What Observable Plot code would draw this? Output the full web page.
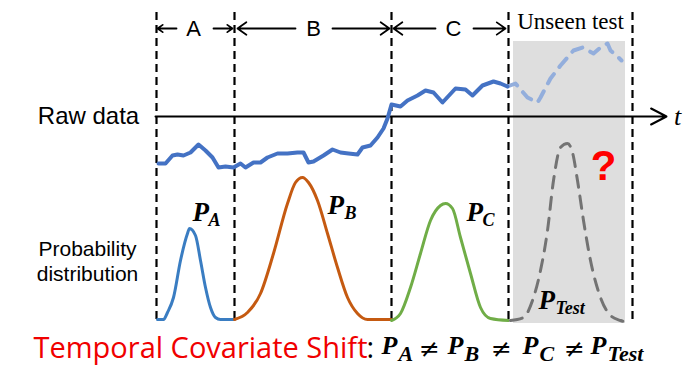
<!DOCTYPE html>
<html><head><meta charset="utf-8">
<script src="https://cdn.jsdelivr.net/npm/d3@7"></script>
<script src="https://cdn.jsdelivr.net/npm/@observablehq/plot@0.6"></script>
<style>html,body{margin:0;padding:0;background:#fff;}</style>
</head><body><div id="chart"></div>
<script>
// Period boundaries (time position along the diagram)
const boundaries = [156, 234, 391, 508, 632];
const periodNames = ["A", "B", "C"];
const periodCenters = [193, 313, 453];

// Raw data series (observed part)
const rawT = [158,165,172,177,183,190,198,205,212,218,225,233,240,245,253,260,267,277,287,297,303,308,313,323,332,340,348,357,362,370,377,383,387,391,400,407,417,425,433,442,455,465,472,482,493,500,507];
const rawV = [163,163,155,154,155,152,144,150,157,167,166,167,163,167,162,162,157,153,153,152,152,162,161,155,149,152,153,154,147,145,137,128,118,104,106,100,95,90,92,102,88,89,95,85,81,83,86];
// Raw data series (unseen test part)
const testT = [507,515,527,537,540,550,560,573,582,593,600,607,610,618,621];
const testV = [86,83,97,102,97,78,65,50,47,53,47,43,50,57,60];

// Probability distributions per period
const pAT = [157,163,167,173,180,187,189,195,200,205,210,215,220,234];
const pAV = [319,319,312,297,260,233,228,235,260,287,307,317,319,319];
const pBT = [234,247,260,273,287,295,302,308,317,327,337,347,357,367,391];
const pBV = [319,312,293,253,203,182,177,182,200,233,267,297,313,319,319];
const pCT = [391,400,410,420,430,440,445,452,460,470,480,490,508];
const pCV = [320,313,287,253,220,205,203,208,237,273,307,318,320];
const pTT = [510,523,532,540,547,553,560,567,572,577,583,590,600,610,620,628];
const pTV = [320,317,300,270,230,180,147,143,152,180,220,260,297,315,320,322];

const labelsP = ["A", "B", "C", "Test"];
const shadeRange = [513, 625];

const pts = (T, V) => T.map((t, i) => ({t, v: V[i]}));

const serif = "Liberation Serif";
const sans = "Liberation Sans";

const plot = Plot.plot({
  width: 700, height: 368,
  margin: 0,
  x: {domain: [0, 700], range: [0, 700], axis: null},
  y: {domain: [0, 368], range: [0, 368], axis: null},
  style: {background: "#fff", overflow: "visible"},
  marks: [
    Plot.rect([shadeRange], {x1: d => d[0], x2: d => d[1], y1: () => 41, y2: () => 323, fill: "#dedede"}),
    Plot.ruleX(boundaries, {x: d => d, y1: 12, y2: 323, stroke: "#000", strokeWidth: 2.2, strokeDasharray: "8,5"}),
    Plot.arrow([[155, 116, 666, 116]], {x1: d => d[0], y1: d => d[1], x2: d => d[2], y2: d => d[3], stroke: "#000", strokeWidth: 2, headLength: 13, headAngle: 55}),
    // header arrows
    Plot.arrow([[176,157],[213,232],[295,237],[332,389],[435,393],[473,505]], {x1: d => d[0], x2: d => d[1], y1: () => 28, y2: () => 28, stroke: "#000", strokeWidth: 1.8, headLength: 9, headAngle: 70}),
    Plot.text(periodNames, {x: (d, i) => periodCenters[i], y: () => 28, text: d => d, fontFamily: sans, fontSize: 22, fill: "#000", lineAnchor: "middle"}),
    Plot.text(["Unseen test"], {x: () => 570, y: () => 28, text: d => d, fontFamily: serif, fontSize: 23, lineAnchor: "bottom", fill: "#000"}),
    // raw series
    Plot.line(pts(testT, testV), {x: "t", y: "v", stroke: "#93aedc", strokeWidth: 4, strokeDasharray: "11,9", curve: "linear"}),
    Plot.line(pts(rawT, rawV), {x: "t", y: "v", stroke: "#4472c4", strokeWidth: 4, strokeLinejoin: "round"}),
    // distributions
    Plot.line(pts(pAT, pAV), {x: "t", y: "v", stroke: "#3a7dc2", strokeWidth: 3, curve: "monotone-x"}),
    Plot.line(pts(pBT, pBV), {x: "t", y: "v", stroke: "#c55a11", strokeWidth: 3, curve: "monotone-x"}),
    Plot.line(pts(pCT, pCV), {x: "t", y: "v", stroke: "#70ad47", strokeWidth: 3, curve: "monotone-x"}),
    Plot.line(pts(pTT, pTV), {x: "t", y: "v", stroke: "#737373", strokeWidth: 3, strokeDasharray: "12,9", curve: "monotone-x"}),
    // P labels in plot
    Plot.text(labelsP, {x: (d, i) => [192, 327, 466, 538][i], y: (d, i) => [220, 213, 220, 308][i], text: () => "P", fontFamily: serif, fontStyle: "italic", fontWeight: "bold", fontSize: 27, textAnchor: "start", lineAnchor: "bottom", fill: "#000"}),
    Plot.text(labelsP, {x: (d, i) => [208, 344, 482, 555][i], y: (d, i) => [225, 218, 225, 313][i], text: d => d, fontFamily: serif, fontStyle: "italic", fontWeight: "bold", fontSize: 18, textAnchor: "start", lineAnchor: "bottom", fill: "#000"}),
    Plot.text(["?"], {x: () => 603, y: () => 179, text: d => d, fontFamily: sans, fontWeight: "bold", fontSize: 42, fill: "#ff0000", lineAnchor: "bottom"}),
    Plot.text(["t"], {x: () => 677, y: () => 124, text: d => d, fontFamily: serif, fontStyle: "italic", fontSize: 26, fill: "#000", lineAnchor: "bottom"}),
    // row labels
    Plot.text(["Raw data"], {x: () => 88, y: () => 123, text: d => d, fontFamily: sans, fontSize: 24, fill: "#000", lineAnchor: "bottom"}),
    Plot.text(["Probability", "distribution"], {x: () => 87, y: (d, i) => [255, 280][i], text: d => d, fontFamily: sans, fontSize: 21, fill: "#000", lineAnchor: "bottom"}),
    // bottom statement
    Plot.text(["Temporal Covariate Shift"], {x: () => 33, y: () => 357, text: d => d, fontFamily: "Open Sans", fontSize: 29, fill: "#f00000", textAnchor: "start", lineAnchor: "bottom"}),
    Plot.text([":"], {x: () => 366, y: () => 357, text: d => d, fontFamily: "Open Sans", fontSize: 29, fill: "#000", textAnchor: "start", lineAnchor: "bottom"}),
    Plot.text(labelsP, {x: (d, i) => [381, 447, 522, 590][i], y: () => 353, text: () => "P", fontFamily: serif, fontStyle: "italic", fontWeight: "bold", fontSize: 26, textAnchor: "start", lineAnchor: "bottom", fill: "#000"}),
    Plot.text(labelsP, {x: (d, i) => [398, 464, 539, 607][i], y: () => 360, text: d => d, fontFamily: serif, fontStyle: "italic", fontWeight: "bold", fontSize: 22, textAnchor: "start", lineAnchor: "bottom", fill: "#000"}),
    Plot.text(["≠", "≠", "≠"], {x: (d, i) => [429, 501, 574][i], y: () => 356, text: d => d, fontFamily: "DejaVu Serif", fontSize: 25, textAnchor: "middle", lineAnchor: "bottom", fill: "#000"})
  ]
});
document.getElementById("chart").appendChild(plot);
</script>
</body></html>
